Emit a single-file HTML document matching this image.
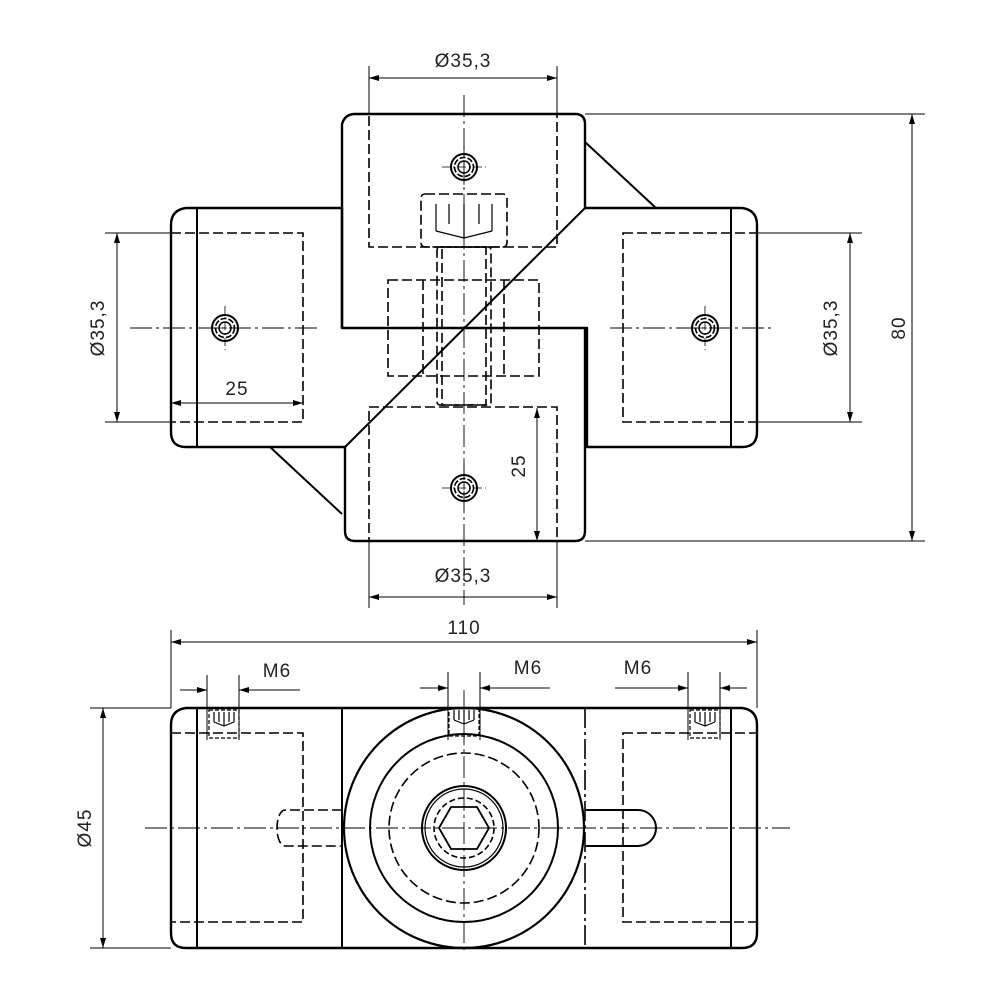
<!DOCTYPE html>
<html><head><meta charset="utf-8"><style>
html,body{margin:0;padding:0;background:#fff}
svg{display:block}
text{font-family:"Liberation Sans",sans-serif;font-size:19px;fill:#222;letter-spacing:1px}
</style></head><body>
<svg width="1000" height="1000" viewBox="0 0 1000 1000" xmlns="http://www.w3.org/2000/svg">
<defs>
<marker id="a" viewBox="0 0 10 6" refX="10" refY="3" markerWidth="10" markerHeight="6" orient="auto-start-reverse" markerUnits="userSpaceOnUse"><path d="M0,0 L10,3 L0,6Z" fill="#000"/></marker>
<g id="scr">
<circle r="13" fill="none" stroke="#000" stroke-width="2"/>
<circle r="9.5" fill="none" stroke="#000" stroke-width="1.6" stroke-dasharray="6 2"/>
<circle r="6" fill="none" stroke="#000" stroke-width="1.5"/>
<line x1="-22" y1="0" x2="22" y2="0" stroke="#000" stroke-width="0.8" stroke-dasharray="8 3 2 3"/>
<line x1="0" y1="-22" x2="0" y2="22" stroke="#000" stroke-width="0.8" stroke-dasharray="8 3 2 3"/>
</g>
<g id="thr" stroke="#000" fill="none" stroke-width="1.2">
<rect x="-15" y="0" width="30" height="28" stroke-dasharray="4 2"/>
<path d="M-10,2v10 M-5,2v10 M0,2v14 M5,2v10 M10,2v10 M-10,12 L0,16 L10,12"/>
</g>
</defs>
<g fill="none" stroke="#000" stroke-width="2.4" stroke-linejoin="round">
<!-- top view outline -->
<path d="M355,114 H575 Q585,114 585,124 V208 H742 Q757,210 757,225 V432 Q757,447 742,447 H587 V328 H342 V124 Q345,114 355,114Z"/>
<path d="M342,328 V208 H186 Q171,210 171,225 V432 Q171,447 186,447 H345 V531 Q345,541 355,541 H575 Q585,541 585,531 V328"/>
<line x1="345" y1="447" x2="585" y2="208" stroke-width="2"/>
<line x1="270" y1="447" x2="342" y2="514" stroke-width="2"/>
<line x1="585" y1="142" x2="656" y2="208" stroke-width="2"/>
<line x1="197" y1="208" x2="197" y2="447" stroke-width="2"/>
<line x1="731" y1="208" x2="731" y2="447" stroke-width="2"/>
<!-- front view -->
<path d="M186,708 H742 Q757,710 757,725 V933 Q757,948 742,948 H186 Q171,948 171,933 V725 Q171,710 186,708Z"/>
<line x1="197" y1="708" x2="197" y2="948" stroke-width="2"/>
<line x1="731" y1="708" x2="731" y2="948" stroke-width="2"/>
<line x1="342" y1="708" x2="342" y2="948" stroke-width="2"/>
<ellipse cx="464" cy="828" rx="120" ry="120" stroke-width="2.2"/>
<circle cx="464" cy="828" r="94" stroke-width="2"/>
<circle cx="464" cy="828" r="42" stroke-width="2"/>
<circle cx="464" cy="828" r="39" stroke-width="1.2"/>
<path d="M585,810 H638 A18,18 0 0 1 638,846 H585" stroke-width="2"/>
</g>
<g fill="none" stroke="#000" stroke-width="1.6" stroke-dasharray="10 4">
<rect x="369" y="114" width="188" height="133"/>
<rect x="369" y="407" width="188" height="134"/>
<rect x="171" y="233" width="132" height="189"/>
<rect x="623" y="233" width="134" height="189"/>
<rect x="421" y="194" width="86" height="53" rx="4"/>
<rect x="437" y="247" width="54" height="158" rx="3"/>
<rect x="442" y="247" width="44" height="158"/>
<rect x="388" y="280" width="151" height="96"/>
<line x1="423" y1="280" x2="423" y2="376"/><line x1="504" y1="280" x2="504" y2="376"/>
<rect x="171" y="733" width="132" height="189"/>
<rect x="623" y="733" width="134" height="189"/>
<line x1="585" y1="708" x2="585" y2="948" stroke-dasharray="20 4 3 4"/>
<circle cx="464" cy="828" r="75"/>
<circle cx="464" cy="828" r="30" stroke-dasharray="6 3"/>
<path d="M342,810 H285 A8,18 0 0 0 285,846 H342"/>
</g>
<path d="M439,828 L451,807 H477 L489,828 L477,849 H451Z" fill="none" stroke="#000" stroke-width="1.8"/>
<path d="M436,231 L464,238 L492,231" fill="none" stroke="#000" stroke-width="1.2"/>
<path d="M436,204v27 M449,204v20 M464,204v34 M479,204v20 M492,204v27" stroke="#000" stroke-width="1.2"/>
<!-- center lines -->
<g stroke="#000" stroke-width="0.9" stroke-dasharray="22 4 3 4">
<line x1="464" y1="95" x2="464" y2="605"/>
<line x1="130" y1="328" x2="320" y2="328"/>
<line x1="610" y1="328" x2="775" y2="328"/>
<line x1="464" y1="690" x2="464" y2="950"/>
<line x1="145" y1="828" x2="790" y2="828"/>
</g>
<use href="#scr" x="464" y="167"/><use href="#scr" x="225" y="328"/>
<use href="#scr" x="705" y="328"/><use href="#scr" x="464" y="488"/>
<use href="#thr" x="224" y="710"/><use href="#thr" x="464" y="708"/><use href="#thr" x="705" y="710"/>
<!-- dimension lines -->
<g stroke="#000" stroke-width="1" fill="none">
<line x1="369" y1="66" x2="369" y2="114"/><line x1="557" y1="66" x2="557" y2="114"/>
<line x1="369" y1="78" x2="557" y2="78" marker-start="url(#a)" marker-end="url(#a)"/>
<line x1="369" y1="541" x2="369" y2="608"/><line x1="557" y1="541" x2="557" y2="608"/>
<line x1="369" y1="597" x2="557" y2="597" marker-start="url(#a)" marker-end="url(#a)"/>
<line x1="105" y1="233" x2="171" y2="233"/><line x1="105" y1="422" x2="171" y2="422"/>
<line x1="117" y1="233" x2="117" y2="422" marker-start="url(#a)" marker-end="url(#a)"/>
<line x1="757" y1="233" x2="862" y2="233"/><line x1="757" y1="422" x2="862" y2="422"/>
<line x1="850" y1="233" x2="850" y2="422" marker-start="url(#a)" marker-end="url(#a)"/>
<line x1="585" y1="114" x2="925" y2="114"/><line x1="585" y1="541" x2="925" y2="541"/>
<line x1="912" y1="114" x2="912" y2="541" marker-start="url(#a)" marker-end="url(#a)"/>
<line x1="171" y1="403" x2="303" y2="403" marker-start="url(#a)" marker-end="url(#a)"/>
<line x1="537" y1="408" x2="537" y2="541" marker-start="url(#a)" marker-end="url(#a)"/>
<line x1="171" y1="630" x2="171" y2="708"/><line x1="757" y1="630" x2="757" y2="708"/>
<line x1="171" y1="642" x2="757" y2="642" marker-start="url(#a)" marker-end="url(#a)"/>
<line x1="90" y1="708" x2="171" y2="708"/><line x1="90" y1="948" x2="171" y2="948"/>
<line x1="103" y1="708" x2="103" y2="948" marker-start="url(#a)" marker-end="url(#a)"/>
<line x1="207" y1="675" x2="207" y2="740"/><line x1="239" y1="675" x2="239" y2="740"/>
<line x1="180" y1="690" x2="207" y2="690" marker-end="url(#a)"/><line x1="300" y1="690" x2="239" y2="690" marker-end="url(#a)"/>
<line x1="448" y1="672" x2="448" y2="740"/><line x1="480" y1="672" x2="480" y2="740"/>
<line x1="420" y1="688" x2="448" y2="688" marker-end="url(#a)"/><line x1="550" y1="688" x2="480" y2="688" marker-end="url(#a)"/>
<line x1="688" y1="672" x2="688" y2="740"/><line x1="720" y1="672" x2="720" y2="740"/>
<line x1="615" y1="688" x2="688" y2="688" marker-end="url(#a)"/><line x1="747" y1="688" x2="720" y2="688" marker-end="url(#a)"/>
</g>
<g text-anchor="middle">
<text x="463" y="67">Ø35,3</text>
<text x="463" y="582">Ø35,3</text>
<text x="237" y="395">25</text>
<text x="464" y="634">110</text>
<text x="277" y="677">M6</text>
<text x="528" y="674">M6</text>
<text x="638" y="674">M6</text>
<text transform="translate(104,328) rotate(-90)">Ø35,3</text>
<text transform="translate(837,328) rotate(-90)">Ø35,3</text>
<text transform="translate(905,328) rotate(-90)">80</text>
<text transform="translate(525,466) rotate(-90)">25</text>
<text transform="translate(91,828) rotate(-90)">Ø45</text>
</g>
</svg>
</body></html>
